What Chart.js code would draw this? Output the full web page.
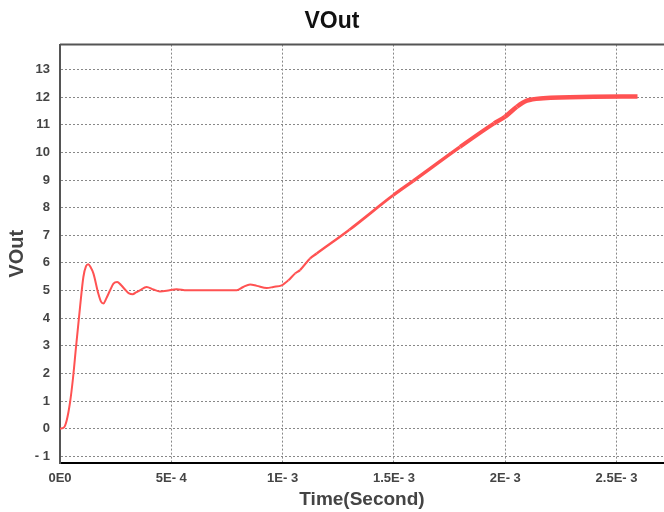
<!DOCTYPE html>
<html>
<head>
<meta charset="utf-8">
<script src="https://cdn.jsdelivr.net/npm/chart.js@4/dist/chart.umd.min.js"></script>
<style>
  html, body { margin: 0; padding: 0; background: #fff; }
  #wrap { width: 664px; height: 512px; }
</style>
</head>
<body>
<div id="wrap"><canvas id="voutChart" width="664" height="512"></canvas></div>
<script>
  // time in seconds, volts
  const timeValues = [0, 18e-6, 30e-6, 45e-6, 58e-6, 72e-6, 90e-6, 105e-6, 117e-6, 127e-6, 137e-6, 150e-6,
    172e-6, 184e-6, 195e-6, 207e-6, 225e-6, 240e-6, 257e-6, 274e-6, 292e-6, 310e-6, 327e-6, 341e-6,
    359e-6, 389e-6, 419e-6, 449e-6, 479e-6, 524e-6, 569e-6, 794e-6, 823e-6, 854e-6, 884e-6, 929e-6,
    958e-6, 996e-6, 1026e-6, 1056e-6, 1078e-6, 1123e-6, 1153e-6, 1300e-6, 1497e-6, 1587e-6, 1797e-6,
    1950e-6, 1999e-6, 2052e-6, 2097e-6, 2171e-6, 2396e-6, 2594e-6];
  const voltValues = [0, 0.05, 0.3, 0.95, 1.8, 2.96, 4.4, 5.49, 5.88, 5.95, 5.85, 5.62,
    4.89, 4.6, 4.53, 4.7, 5.01, 5.25, 5.31, 5.2, 5.04, 4.9, 4.87, 4.93,
    5.01, 5.13, 5.04, 4.97, 4.99, 5.05, 5.01, 5.01, 5.13, 5.22, 5.17, 5.09,
    5.13, 5.19, 5.37, 5.62, 5.74, 6.16, 6.34, 7.2, 8.45, 8.97, 10.2,
    11.05, 11.29, 11.65, 11.87, 11.96, 12.01, 12.02];

  const xTickValues = [0, 5e-4, 1e-3, 1.5e-3, 2e-3, 2.5e-3];
  const xTickLabels = ['0E0', '5E- 4', '1E- 3', '1.5E- 3', '2E- 3', '2.5E- 3'];
  const yTickValues = [-1, 0, 1, 2, 3, 4, 5, 6, 7, 8, 9, 10, 11, 12, 13];
  const yTickLabels = ['- 1', '0', '1', '2', '3', '4', '5', '6', '7', '8', '9', '10', '11', '12', '13'];

  const boldFont = (size) => ({ family: '"Liberation Sans", Arial, sans-serif', size: size, weight: 'bold' });

  const points = timeValues.map((t, i) => ({ x: t, y: voltValues[i] }));

  // top border of the plot
  const topBorder = {
    id: 'topBorder',
    afterDraw(chart) {
      const a = chart.chartArea;
      const c = chart.ctx;
      c.save();
      c.strokeStyle = '#555';
      c.lineWidth = 2;
      c.beginPath();
      c.moveTo(a.left, a.top);
      c.lineTo(a.right, a.top);
      c.stroke();
      c.restore();
    }
  };

  new Chart(document.getElementById('voutChart'), {
    type: 'line',
    data: {
      datasets: [{
        label: 'VOut',
        data: points,
        borderColor: 'rgb(255,82,82)',
        borderWidth: 2,
        pointRadius: 0,
        cubicInterpolationMode: 'monotone',
        fill: false,
        segment: {
          // line gets thicker further along
          borderWidth: ctx => {
            const t = ctx.p0.parsed.x;
            const k = Math.min(1, Math.max(0, (t - 1e-3) / 1e-3));
            return 2 + 2.5 * k;
          }
        }
      }]
    },
    options: {
      responsive: false,
      animation: false,
      layout: { padding: { left: 0, right: 0, top: 0, bottom: 0 } },
      plugins: {
        legend: { display: false },
        tooltip: { enabled: false },
        title: {
          display: true,
          text: 'VOut',
          color: '#111',
          font: boldFont(23),
          padding: { top: 8, bottom: 9 }
        }
      },
      scales: {
        x: {
          type: 'linear',
          min: 0,
          max: 2.713e-3,
          afterBuildTicks: s => { s.ticks = xTickValues.map(v => ({ value: v })); },
          afterFit: s => { s.height = 49; },
          ticks: {
            color: '#444',
            font: boldFont(13),
            padding: 8,
            maxRotation: 0,
            autoSkip: false,
            callback: v => xTickLabels[xTickValues.indexOf(v)]
          },
          grid: { color: '#888', drawTicks: false },
          border: { color: '#000', width: 2, dash: [2, 2] },
          title: {
            display: true,
            text: 'Time(Second)',
            color: '#444',
            font: boldFont(19),
            padding: { top: 0, bottom: 1 }
          }
        },
        y: {
          type: 'linear',
          min: -1.24,
          max: 13.9,
          afterBuildTicks: s => { s.ticks = yTickValues.map(v => ({ value: v })); },
          afterFit: s => { s.width = 60; },
          ticks: {
            color: '#444',
            font: boldFont(13),
            padding: 10,
            autoSkip: false,
            callback: v => yTickLabels[yTickValues.indexOf(v)]
          },
          grid: { color: '#888', drawTicks: false },
          border: { color: '#555', width: 2, dash: [2, 2] },
          title: {
            display: true,
            text: 'VOut',
            color: '#444',
            font: boldFont(20),
            padding: { top: 5, bottom: 0 }
          }
        }
      }
    },
    plugins: [topBorder]
  });
</script>
</body>
</html>
